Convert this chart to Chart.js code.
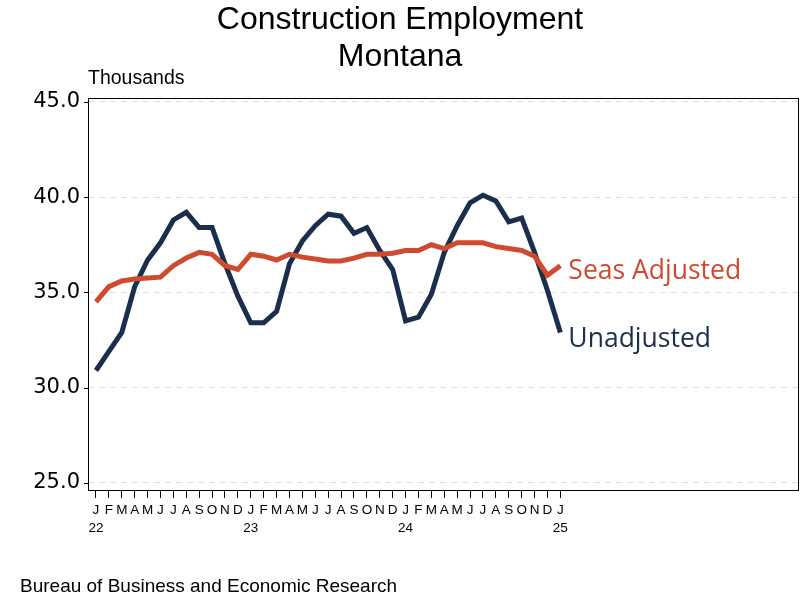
<!DOCTYPE html>
<html>
<head>
<meta charset="utf-8">
<script src="https://cdn.jsdelivr.net/npm/chart.js@4.4.1/dist/chart.umd.min.js"></script>
<style>
  html, body { margin: 0; padding: 0; background: #fff; }
  #wrap { width: 800px; height: 600px; }
</style>
</head>
<body>
<div id="wrap"><canvas id="c" width="800" height="600"></canvas></div>
<script>
// Jan 2022 .. Jan 2025, thousands
const months = ['J','F','M','A','M','J','J','A','S','O','N','D']
const yearLabels = { 0: '22', 12: '23', 24: '24', 36: '25' }
const unadjusted = [
  30.9, 31.9, 32.9, 35.3, 36.7, 37.6, 38.8, 39.2, 38.4, 38.4, 36.5, 34.8,
  33.4, 33.4, 34.0, 36.5, 37.7, 38.5, 39.1, 39.0, 38.1, 38.4, 37.2, 36.2,
  33.5, 33.7, 34.9, 37.1, 38.5, 39.7, 40.1, 39.8, 38.7, 38.9, 37.1, 35.1,
  32.9
]
const seasAdjusted = [
  34.5, 35.3, 35.6, 35.7, 35.75, 35.8, 36.4, 36.8, 37.1, 37.0, 36.4, 36.2,
  37.0, 36.9, 36.7, 37.0, 36.85, 36.75, 36.65, 36.65, 36.8, 37.0, 37.0, 37.05,
  37.2, 37.2, 37.5, 37.3, 37.6, 37.6, 37.6, 37.4, 37.3, 37.2, 36.9, 35.9,
  36.4
]
const yTicks = [25, 30, 35, 40, 45]

const navy = '#1b2f4c'
const red = '#cf4a2e'

const toXY = arr => arr.map((v, i) => ({ x: i, y: v }))

const decor = {
  id: 'decor',
  afterDraw(chart) {
    const { ctx, chartArea: a } = chart
    const xs = chart.scales.x, ys = chart.scales.y
    ctx.save()
    ctx.strokeStyle = '#000'
    ctx.lineWidth = 1
    ctx.strokeRect(a.left + 0.5, a.top + 0.5, a.right - a.left - 1, a.bottom - a.top)
    // short y tick marks outside the box
    yTicks.forEach(v => {
      const y = Math.round(ys.getPixelForValue(v)) + 0.5
      ctx.beginPath(); ctx.moveTo(a.left - 4, y); ctx.lineTo(a.left, y); ctx.stroke()
    })

    ctx.fillStyle = '#000'
    ctx.textAlign = 'center'
    ctx.textBaseline = 'middle'
    ctx.font = '32px "Liberation Sans", Arial, sans-serif'
    ctx.fillText('Construction Employment', 400, 20)
    ctx.fillText('Montana', 400, 57)
    ctx.textAlign = 'left'
    ctx.font = '19.5px "Liberation Sans", Arial, sans-serif'
    ctx.fillText('Thousands', 88, 79)
    ctx.font = '19px "Liberation Sans", Arial, sans-serif'
    ctx.fillText('Bureau of Business and Economic Research', 20, 587)

    // series end labels
    const last = unadjusted.length - 1
    ctx.font = '26.5px "Open Sans", sans-serif'
    ctx.fillStyle = red
    ctx.fillText('Seas Adjusted', xs.getPixelForValue(last) + 8, ys.getPixelForValue(seasAdjusted[last]) + 6)
    ctx.fillStyle = navy
    ctx.fillText('Unadjusted', xs.getPixelForValue(last) + 8, ys.getPixelForValue(unadjusted[last]) + 7)
    ctx.restore()
  }
}

new Chart(document.getElementById('c').getContext('2d'), {
  type: 'line',
  data: {
    datasets: [
      { label: 'Seas Adjusted', data: toXY(seasAdjusted), borderColor: red, borderWidth: 5, pointRadius: 0, tension: 0, fill: false },
      { label: 'Unadjusted', data: toXY(unadjusted), borderColor: navy, borderWidth: 5, pointRadius: 0, tension: 0, fill: false },
    ]
  },
  options: {
    responsive: false,
    animation: false,
    layout: { padding: { top: 98, right: 1, left: 0, bottom: 0 } },
    plugins: { legend: { display: false }, tooltip: { enabled: false }, title: { display: false } },
    scales: {
      x: {
        type: 'linear',
        min: -0.62,
        max: 54.5,
        afterBuildTicks(scale) { scale.ticks = unadjusted.map((_, i) => ({ value: i })) },
        afterFit(scale) { scale.height = 110 },
        border: { display: false },
        grid: { drawOnChartArea: false, drawTicks: true, tickLength: 8, color: '#000', lineWidth: 1 },
        ticks: {
          autoSkip: false,
          maxRotation: 0,
          padding: 4,
          color: '#000',
          font: { family: '"Liberation Sans", Arial, sans-serif', size: 13.5, lineHeight: 1.3 },
          callback: v => [months[v % 12], yearLabels[v] || '']
        }
      },
      y: {
        min: 24.63,
        max: 45.2,
        afterBuildTicks(scale) { scale.ticks = yTicks.map(v => ({ value: v })) },
        afterFit(scale) { scale.width = 88 },
        border: { display: false, dash: [6, 5] },
        grid: { drawTicks: false, color: '#dddddd', lineWidth: 1 },
        ticks: {
          padding: 8,
          color: '#000',
          font: { family: '"DejaVu Sans", sans-serif', size: 21 },
          callback: v => v.toFixed(1)
        }
      }
    }
  },
  plugins: [decor]
})
</script>
</body>
</html>
